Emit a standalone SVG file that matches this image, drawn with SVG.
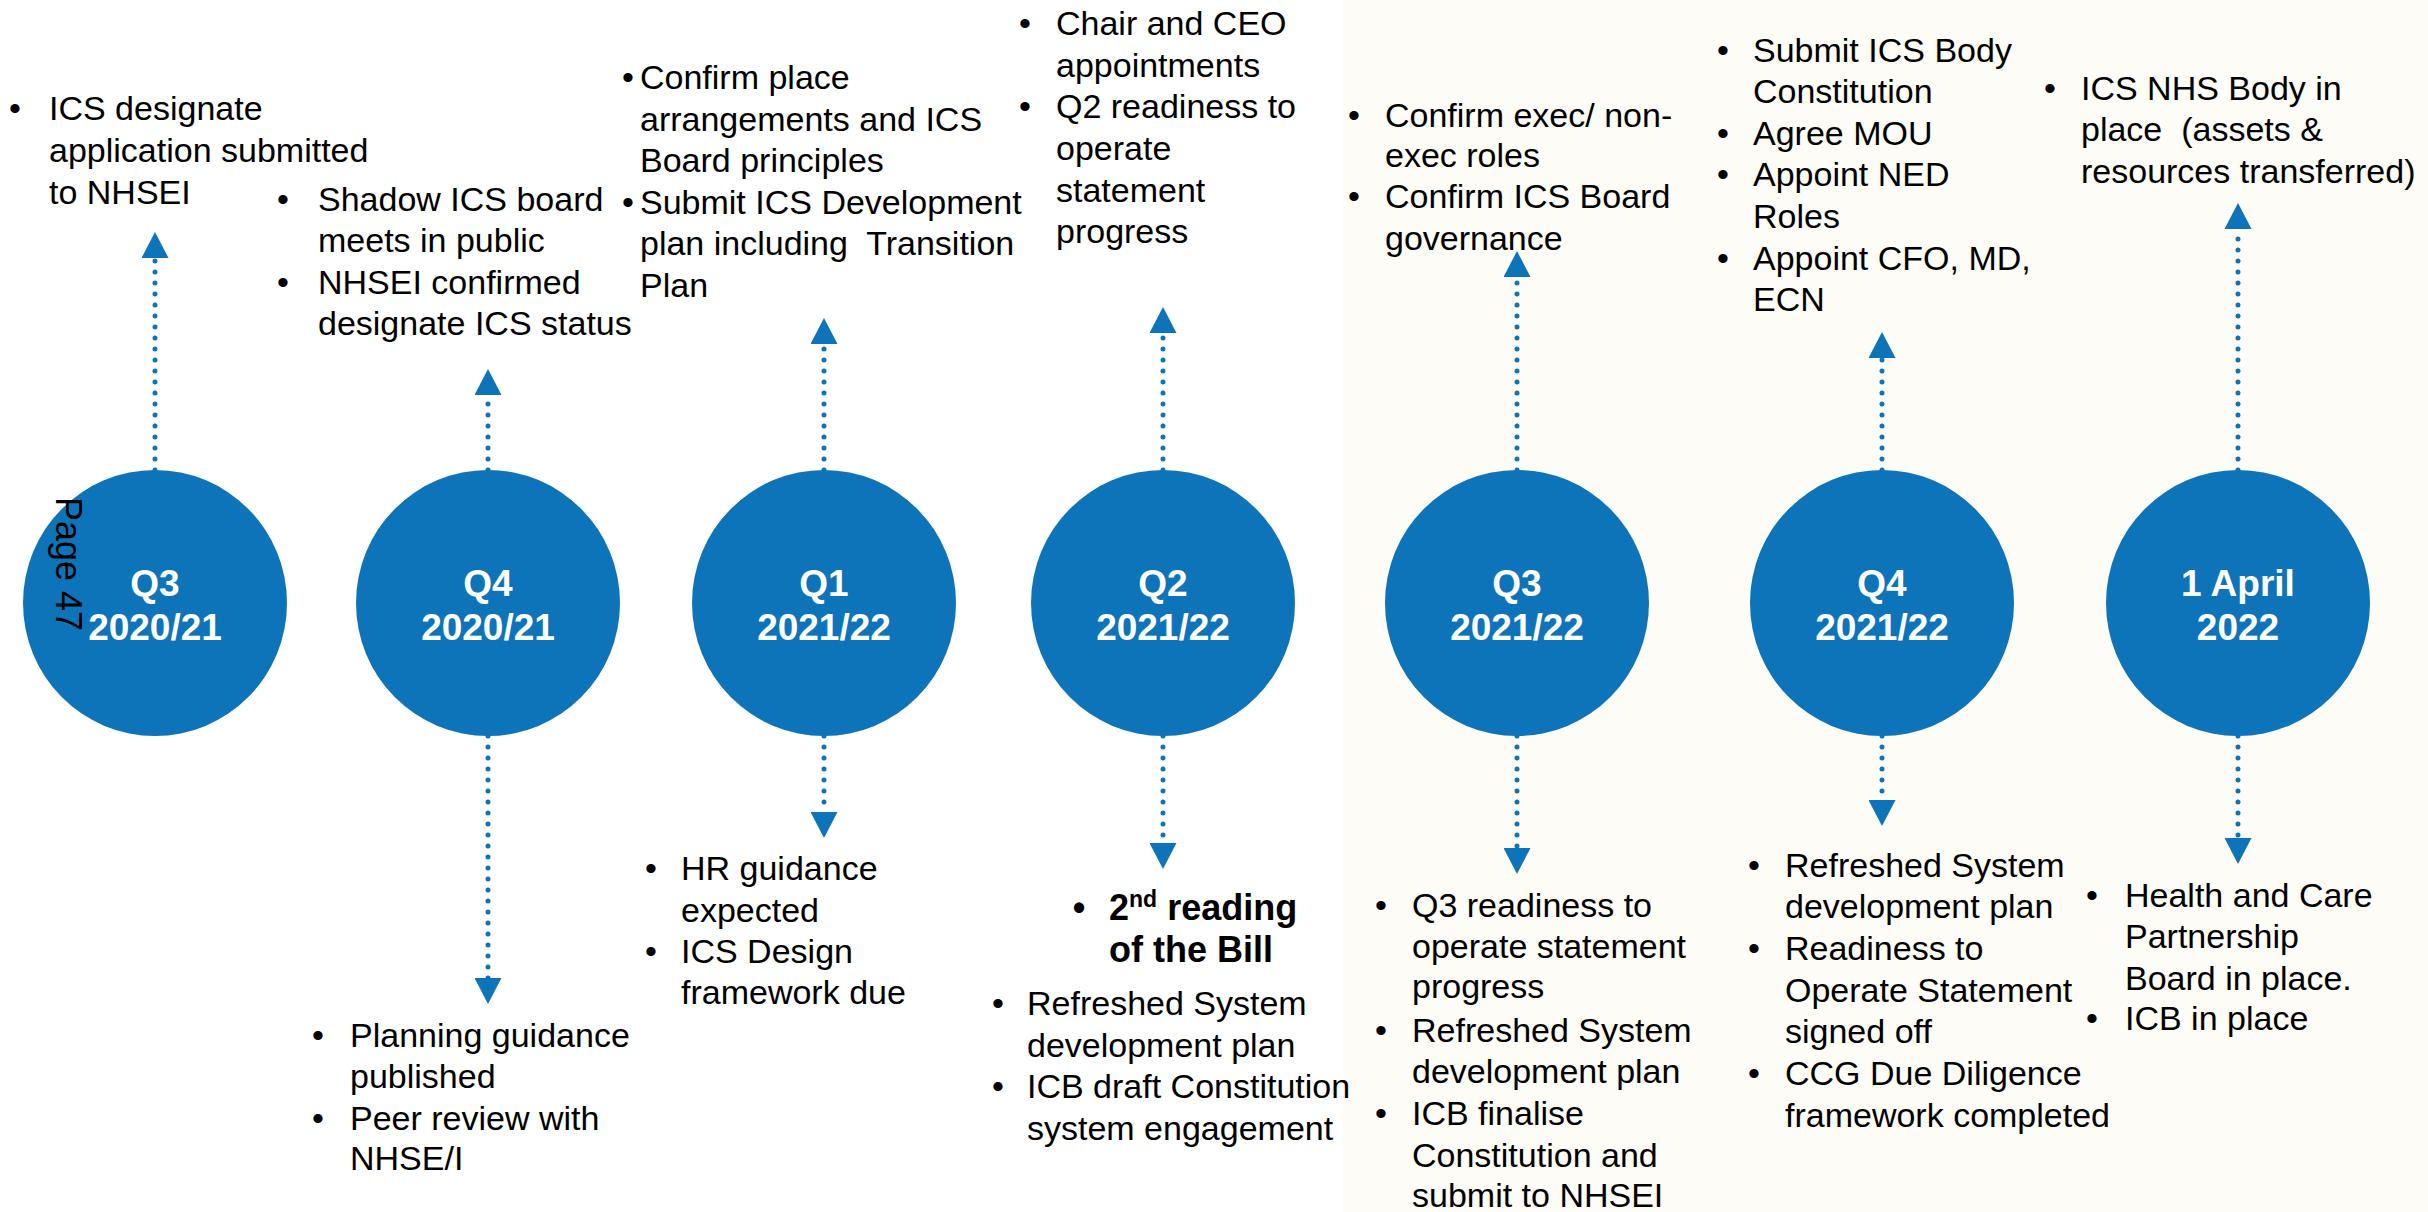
<svg xmlns="http://www.w3.org/2000/svg" width="2428" height="1212" viewBox="0 0 2428 1212">
<defs>
<style>
.t{font-family:"Liberation Sans",Arial,sans-serif;font-size:34px;fill:#000}
.bl{font-family:"Liberation Sans",Arial,sans-serif;font-size:34px;fill:#000;text-anchor:middle}
.bd{font-weight:bold;font-size:36px}
.lbl{font-family:"Liberation Sans",Arial,sans-serif;font-size:37px;font-weight:bold;fill:#fff;text-anchor:middle}
.disc{fill:#0E74BA}
.dot{fill:none;stroke:#0E74BA;stroke-width:5;stroke-linecap:round;stroke-dasharray:0.1 10.9}
.pre{white-space:pre}
</style>
<marker id="ah" markerUnits="userSpaceOnUse" markerWidth="27" markerHeight="27" viewBox="0 0 25 26" refX="0" refY="13" orient="auto">
<path d="M0,0 L25,13 L0,26 Z" fill="#0E74BA"/>
</marker>
</defs>
<rect x="0" y="0" width="2428" height="1212" fill="#FFFFFF"/>
<rect x="1343" y="0" width="1085" height="1212" fill="#FDFCF7"/>

<g id="connectors">
<line class="dot" x1="155" y1="470" x2="155" y2="258" marker-end="url(#ah)"/>
<line class="dot" x1="488" y1="470" x2="488" y2="395" marker-end="url(#ah)"/>
<line class="dot" x1="488" y1="736" x2="488" y2="978" marker-end="url(#ah)"/>
<line class="dot" x1="824" y1="470" x2="824" y2="344" marker-end="url(#ah)"/>
<line class="dot" x1="824" y1="736" x2="824" y2="812" marker-end="url(#ah)"/>
<line class="dot" x1="1163" y1="470" x2="1163" y2="333" marker-end="url(#ah)"/>
<line class="dot" x1="1163" y1="736" x2="1163" y2="843" marker-end="url(#ah)"/>
<line class="dot" x1="1517" y1="470" x2="1517" y2="277" marker-end="url(#ah)"/>
<line class="dot" x1="1517" y1="736" x2="1517" y2="848" marker-end="url(#ah)"/>
<line class="dot" x1="1882" y1="470" x2="1882" y2="358" marker-end="url(#ah)"/>
<line class="dot" x1="1882" y1="736" x2="1882" y2="800" marker-end="url(#ah)"/>
<line class="dot" x1="2238" y1="470" x2="2238" y2="229" marker-end="url(#ah)"/>
<line class="dot" x1="2238" y1="736" x2="2238" y2="838" marker-end="url(#ah)"/>
</g>

<g id="node-q3-2020">
<ellipse class="disc" cx="155" cy="603" rx="132" ry="133"/>
<text class="lbl" x="155" y="596">Q3</text>
<text class="lbl" x="155" y="640">2020/21</text>
</g>
<g id="node-q4-2020">
<ellipse class="disc" cx="488" cy="603" rx="132" ry="133"/>
<text class="lbl" x="488" y="596">Q4</text>
<text class="lbl" x="488" y="640">2020/21</text>
</g>
<g id="node-q1-2021">
<ellipse class="disc" cx="824" cy="603" rx="132" ry="133"/>
<text class="lbl" x="824" y="596">Q1</text>
<text class="lbl" x="824" y="640">2021/22</text>
</g>
<g id="node-q2-2021">
<ellipse class="disc" cx="1163" cy="603" rx="132" ry="133"/>
<text class="lbl" x="1163" y="596">Q2</text>
<text class="lbl" x="1163" y="640">2021/22</text>
</g>
<g id="node-q3-2021">
<ellipse class="disc" cx="1517" cy="603" rx="132" ry="133"/>
<text class="lbl" x="1517" y="596">Q3</text>
<text class="lbl" x="1517" y="640">2021/22</text>
</g>
<g id="node-q4-2021">
<ellipse class="disc" cx="1882" cy="603" rx="132" ry="133"/>
<text class="lbl" x="1882" y="596">Q4</text>
<text class="lbl" x="1882" y="640">2021/22</text>
</g>
<g id="node-1april-2022">
<ellipse class="disc" cx="2238" cy="603" rx="132" ry="133"/>
<text class="lbl" x="2238" y="596">1 April</text>
<text class="lbl" x="2238" y="640">2022</text>
</g>

<g id="page-number">
<text class="t" transform="translate(56,497) rotate(90)" style="font-size:36px">Page 47</text>
</g>

<g id="notes-q3-2020-top">
<text class="bl" x="15" y="120">•</text>
<text class="t" x="49" y="120">ICS designate</text>
<text class="t" x="49" y="162">application submitted</text>
<text class="t" x="49" y="204">to NHSEI</text>
</g>

<g id="notes-q4-2020-top">
<text class="bl" x="283" y="211">•</text>
<text class="t" x="318" y="211">Shadow ICS board</text>
<text class="t" x="318" y="252">meets in public</text>
<text class="bl" x="283" y="294">•</text>
<text class="t" x="318" y="294">NHSEI confirmed</text>
<text class="t" x="318" y="335">designate ICS status</text>
</g>

<g id="notes-q1-2021-top">
<text class="bl" x="628" y="89">•</text>
<text class="t" x="640" y="89">Confirm place</text>
<text class="t" x="640" y="131">arrangements and ICS</text>
<text class="t" x="640" y="172">Board principles</text>
<text class="bl" x="628" y="214">•</text>
<text class="t" x="640" y="214">Submit ICS Development</text>
<text class="t pre" x="640" y="255">plan including  Transition</text>
<text class="t" x="640" y="297">Plan</text>
</g>

<g id="notes-q2-2021-top">
<text class="bl" x="1025" y="35">•</text>
<text class="t" x="1056" y="35">Chair and CEO</text>
<text class="t" x="1056" y="77">appointments</text>
<text class="bl" x="1025" y="118">•</text>
<text class="t" x="1056" y="118">Q2 readiness to</text>
<text class="t" x="1056" y="160">operate</text>
<text class="t" x="1056" y="202">statement</text>
<text class="t" x="1056" y="243">progress</text>
</g>

<g id="notes-q3-2021-top">
<text class="bl" x="1354" y="127">•</text>
<text class="t" x="1385" y="127">Confirm exec/ non-</text>
<text class="t" x="1385" y="167">exec roles</text>
<text class="bl" x="1354" y="208">•</text>
<text class="t" x="1385" y="208">Confirm ICS Board</text>
<text class="t" x="1385" y="250">governance</text>
</g>

<g id="notes-q4-2021-top">
<text class="bl" x="1723" y="62">•</text>
<text class="t" x="1753" y="62">Submit ICS Body</text>
<text class="t" x="1753" y="103">Constitution</text>
<text class="bl" x="1723" y="145">•</text>
<text class="t" x="1753" y="145">Agree MOU</text>
<text class="bl" x="1723" y="186">•</text>
<text class="t" x="1753" y="186">Appoint NED</text>
<text class="t" x="1753" y="228">Roles</text>
<text class="bl" x="1723" y="270">•</text>
<text class="t" x="1753" y="270">Appoint CFO, MD,</text>
<text class="t" x="1753" y="311">ECN</text>
</g>

<g id="notes-1april-2022-top">
<text class="bl" x="2050" y="100">•</text>
<text class="t" x="2081" y="100">ICS NHS Body in</text>
<text class="t pre" x="2081" y="141">place  (assets &amp;</text>
<text class="t" x="2081" y="183">resources transferred)</text>
</g>

<g id="notes-q4-2020-bottom">
<text class="bl" x="318" y="1047">•</text>
<text class="t" x="350" y="1047">Planning guidance</text>
<text class="t" x="350" y="1088">published</text>
<text class="bl" x="318" y="1130">•</text>
<text class="t" x="350" y="1130">Peer review with</text>
<text class="t" x="350" y="1170">NHSE/I</text>
</g>

<g id="notes-q1-2021-bottom">
<text class="bl" x="651" y="880">•</text>
<text class="t" x="681" y="880">HR guidance</text>
<text class="t" x="681" y="922">expected</text>
<text class="bl" x="651" y="963">•</text>
<text class="t" x="681" y="963">ICS Design</text>
<text class="t" x="681" y="1004">framework due</text>
</g>

<g id="notes-q2-2021-bottom">
<text class="bl bd" x="1079" y="920">•</text>
<text class="t bd" x="1109" y="920">2<tspan style="font-size:23px" dy="-13">nd</tspan><tspan dy="13"> reading</tspan></text>
<text class="t bd" x="1109" y="962">of the Bill</text>
<text class="bl" x="998" y="1015">•</text>
<text class="t" x="1027" y="1015">Refreshed System</text>
<text class="t" x="1027" y="1057">development plan</text>
<text class="bl" x="998" y="1098">•</text>
<text class="t" x="1027" y="1098">ICB draft Constitution</text>
<text class="t" x="1027" y="1140">system engagement</text>
</g>

<g id="notes-q3-2021-bottom">
<text class="bl" x="1381" y="917">•</text>
<text class="t" x="1412" y="917">Q3 readiness to</text>
<text class="t" x="1412" y="958">operate statement</text>
<text class="t" x="1412" y="998">progress</text>
<text class="bl" x="1381" y="1042">•</text>
<text class="t" x="1412" y="1042">Refreshed System</text>
<text class="t" x="1412" y="1083">development plan</text>
<text class="bl" x="1381" y="1125">•</text>
<text class="t" x="1412" y="1125">ICB finalise</text>
<text class="t" x="1412" y="1167">Constitution and</text>
<text class="t" x="1412" y="1207">submit to NHSEI</text>
</g>

<g id="notes-q4-2021-bottom">
<text class="bl" x="1754" y="877">•</text>
<text class="t" x="1785" y="877">Refreshed System</text>
<text class="t" x="1785" y="918">development plan</text>
<text class="bl" x="1754" y="960">•</text>
<text class="t" x="1785" y="960">Readiness to</text>
<text class="t" x="1785" y="1002">Operate Statement</text>
<text class="t" x="1785" y="1043">signed off</text>
<text class="bl" x="1754" y="1085">•</text>
<text class="t" x="1785" y="1085">CCG Due Diligence</text>
<text class="t" x="1785" y="1127">framework completed</text>
</g>

<g id="notes-1april-2022-bottom">
<text class="bl" x="2092" y="907">•</text>
<text class="t" x="2125" y="907">Health and Care</text>
<text class="t" x="2125" y="948">Partnership</text>
<text class="t" x="2125" y="990">Board in place.</text>
<text class="bl" x="2092" y="1030">•</text>
<text class="t" x="2125" y="1030">ICB in place</text>
</g>
</svg>
